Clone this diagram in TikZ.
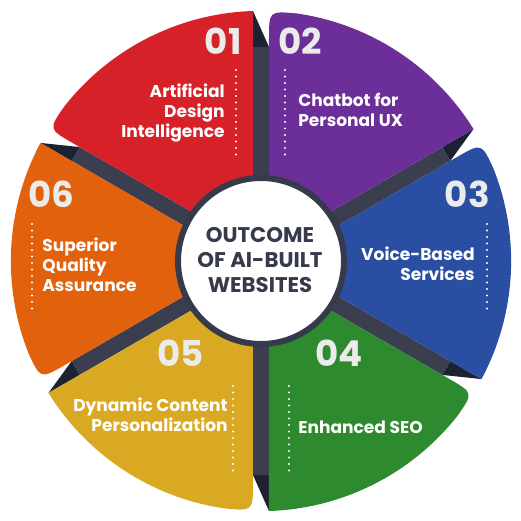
\documentclass[tikz,border=0pt]{standalone}
\usepackage{fontspec}
\setmainfont{Poppins}
\usepackage{tikz}
\usetikzlibrary{calc}
\usetikzlibrary{positioning}

\definecolor{cRed}{HTML}{D62128}
\definecolor{cPurple}{HTML}{6C2E98}
\definecolor{cBlue}{HTML}{2A4FA2}
\definecolor{cGreen}{HTML}{2D8A2E}
\definecolor{cYellow}{HTML}{DAA924}
\definecolor{cOrange}{HTML}{E2610C}
\definecolor{cBand}{HTML}{3B3E4F}
\definecolor{cFold}{HTML}{1D2233}
\definecolor{cRing}{HTML}{363A4B}
\definecolor{cNum}{HTML}{EBEBEB}

\tikzset{
  numtxt/.style={text=cNum, inner sep=0pt,
    font=\fontsize{20.3}{20}\selectfont\bfseries},
  lbltxt/.style={text=white, inner sep=0pt,
    font=\fontsize{9.7}{11.3}\selectfont\bfseries},
  dotline/.style={white, line width=1.4pt, line cap=round,
    dash pattern=on 0pt off 3.7pt}
}

\begin{document}
\begin{tikzpicture}[x=0.02cm, y=0.02cm]

    \useasboundingbox (-261, -260) rectangle (260, 261);

    % dark folds between the pieces
    \foreach \b in {90, 30, -30, -90, -150, 150} {
      \fill[cBand] (\b+90:8) -- ($(\b:214)+(\b+90:8)$)
        -- ($(\b:214)+(\b-90:8)$) -- (\b-90:8) -- cycle;
      \fill[cFold] ($(\b:214)+(\b+90:8)$) -- ($(\b:250)+(\b+90:8)$)
        -- ($(\b:214)+(\b-90:8)$) -- cycle;
    }

    % the six pieces
    \foreach \a/\col in {90/cRed, 30/cPurple, -30/cBlue,
                         -90/cGreen, 210/cYellow, 150/cOrange} {
      \fill[\col] (\a+90:8) -- ($(\a:250)+(\a+90:8)$)
        arc (\a+1.83:\a+51.77:250.13)
        .. controls ($(\a+60:250)+(\a-30:8)$) .. ($(\a+60:222)+(\a-30:8)$)
        -- (\a-30:8) -- cycle;
    }

    % hub
    \draw[cRing, fill=white, line width=3.4pt] (0, 0) circle (83);
    \node[text=cRing, align=center, inner sep=0pt,
      font=\fontsize{12.1}{14.5}\selectfont\bfseries] (hub) at (-1, 1)
      {OUTCOME\\ OF AI-BUILT\\ WEBSITES};

    % 01
    \node[numtxt, anchor=east] (num1) at (-19, 220) {01};
    \coordinate (d1a) at (-25, 191);
    \coordinate (d1b) at (-25, 101);
    \draw[dotline] (d1a) -- (d1b);
    \node[lbltxt, align=right, anchor=east] (lbl1) at (-36, 148)
      {Artificial\\ Design\\ Intelligence};

    % 02
    \node[numtxt, anchor=west] (num2) at (17, 220) {02};
    \coordinate (d2a) at (24, 191);
    \coordinate (d2b) at (24, 101);
    \draw[dotline] (d2a) -- (d2b);
    \node[lbltxt, align=left, anchor=west] (lbl2) at (37, 151)
      {Chatbot for\\ Personal UX};

    % 03
    \node[numtxt, anchor=east] (num3) at (229, 67) {03};
    \coordinate (d3a) at (226, 37);
    \coordinate (d3b) at (226, -51);
    \draw[dotline] (d3a) -- (d3b);
    \node[lbltxt, align=right, anchor=east] (lbl3) at (214, -3)
      {Voice-Based\\ Services};

    % 04
    \node[numtxt, anchor=west] (num4) at (54, -92) {04};
    \coordinate (d4a) at (28, -125);
    \coordinate (d4b) at (28, -212);
    \draw[dotline] (d4a) -- (d4b);
    \node[lbltxt, anchor=west] (lbl4) at (37, -166) {Enhanced SEO};

    % 05
    \node[numtxt, anchor=east] (num5) at (-57, -92) {05};
    \coordinate (d5a) at (-28, -125);
    \coordinate (d5b) at (-28, -212);
    \draw[dotline] (d5a) -- (d5b);
    \node[lbltxt, align=right, anchor=east] (lbl5) at (-33, -154)
      {Dynamic Content\\ Personalization};

    % 06
    \node[numtxt, anchor=west] (num6) at (-233, 67) {06};
    \coordinate (d6a) at (-229, 37);
    \coordinate (d6b) at (-229, -52);
    \draw[dotline] (d6a) -- (d6b);
    \node[lbltxt, align=left, anchor=west] (lbl6) at (-219, -4)
      {Superior\\ Quality\\ Assurance};

  \end{tikzpicture}
\end{document}
